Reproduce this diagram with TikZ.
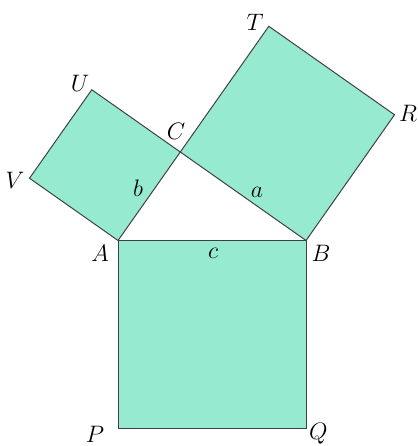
\documentclass[tikz,border=0pt]{standalone}
\usepackage{tikz}
\usetikzlibrary{calc}
\definecolor{mint}{RGB}{150,234,208}
\tikzstyle{sq} = [fill=mint, draw=black!75, line width=0.6pt, line join=miter]
\tikzstyle{lbl} = [font=\Large, inner sep=0pt]

\begin{document}
\begin{tikzpicture}
    \useasboundingbox (-2.511,-4.372) rectangle (6.362,5.117);
    % triangle and square corners
    \coordinate (A) at (0,0);
    \coordinate (B) at (4,0);
    \coordinate (C) at (1.325,1.883);
    \coordinate (P) at (0,-4);
    \coordinate (Q) at (4,-4);
    \coordinate (V) at ($(A)+(-1.883,1.325)$);
    \coordinate (U) at ($(C)+(-1.883,1.325)$);
    \coordinate (T) at ($(C)+(1.883,2.675)$);
    \coordinate (R) at ($(B)+(1.883,2.675)$);

    \draw [sq] (A) -- (B) -- (Q) -- (P) -- cycle;
    \draw [sq] (A) -- (C) -- (U) -- (V) -- cycle;
    \draw [sq] (C) -- (B) -- (R) -- (T) -- cycle;

    \node (lA) [lbl] at ($(A)+(-0.38,-0.27)$) {$A$};
    \node (lB) [lbl] at ($(B)+(0.32,-0.27)$) {$B$};
    \node (lC) [lbl] at ($(C)+(-0.09,0.43)$) {$C$};
    \node (lP) [lbl] at ($(P)+(-0.49,-0.12)$) {$P$};
    \node (lQ) [lbl] at ($(Q)+(0.26,-0.12)$) {$Q$};
    \node (lU) [lbl] at ($(U)+(-0.25,0.14)$) {$U$};
    \node (lV) [lbl] at ($(V)+(-0.31,-0.04)$) {$V$};
    \node (lT) [lbl] at ($(T)+(-0.29,0.09)$) {$T$};
    \node (lR) [lbl] at ($(R)+(0.29,0.04)$) {$R$};
    \node (la) [lbl] at (2.957,1.032) {$a$};
    \node (lb) [lbl] at (0.426,1.117) {$b$};
    \node (lc) [lbl] at (2.021,-0.266) {$c$};
\end{tikzpicture}
\end{document}
